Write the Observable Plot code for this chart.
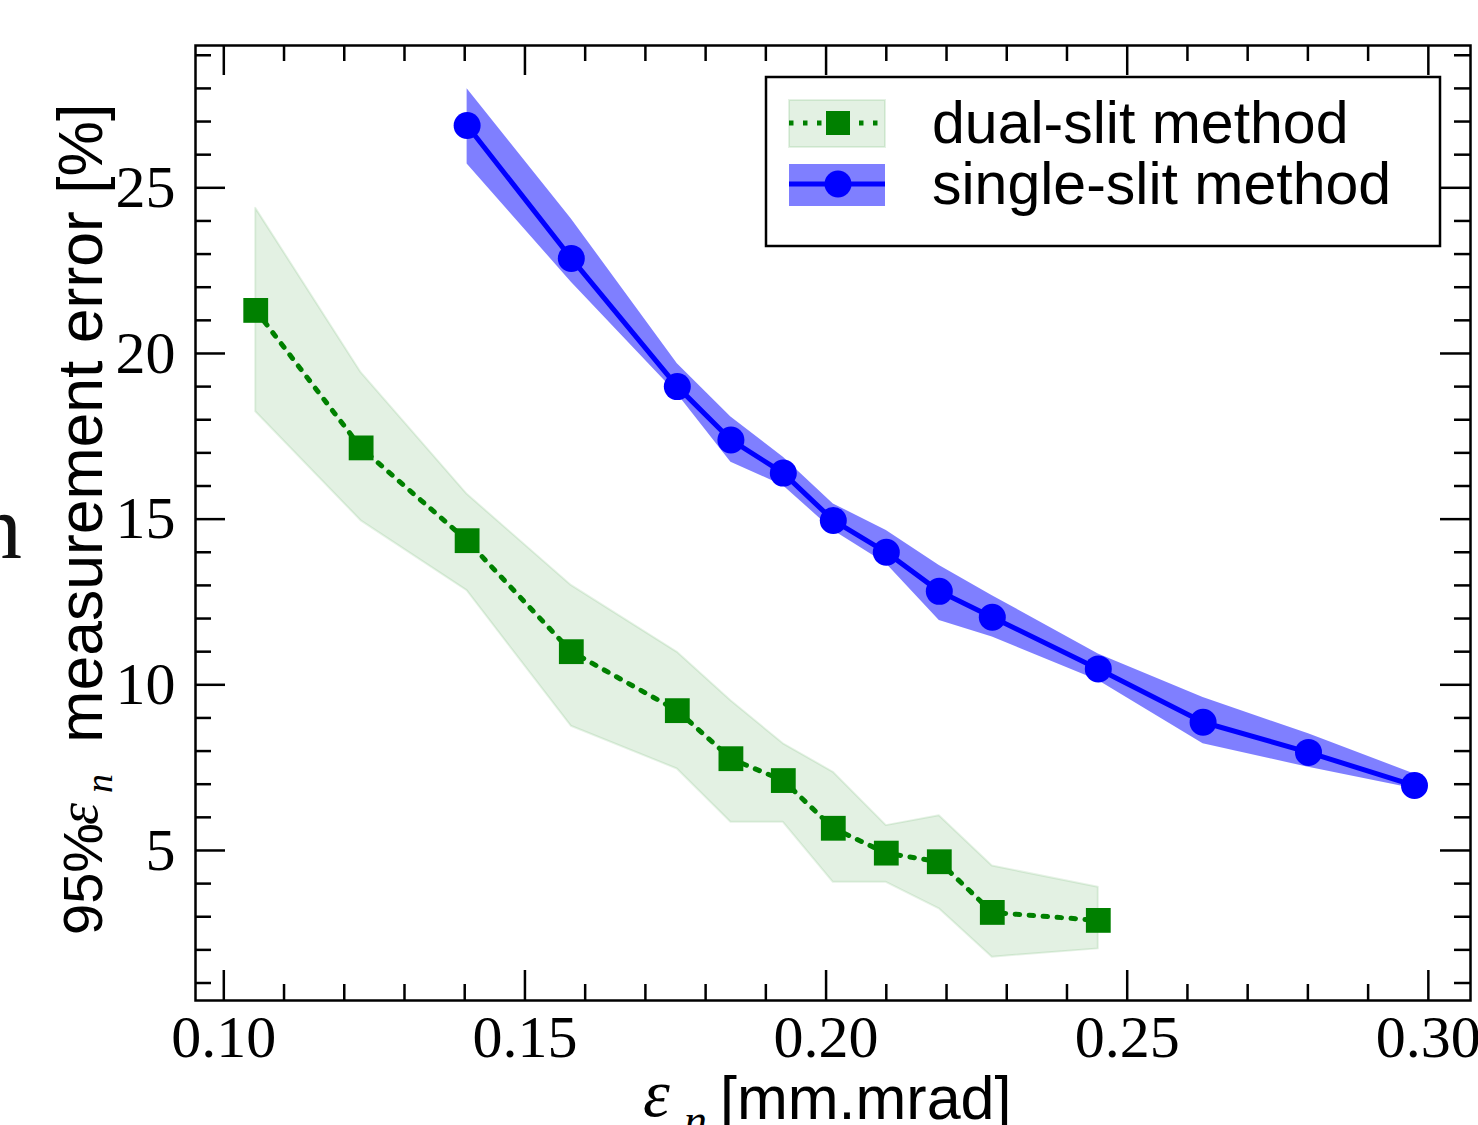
<!DOCTYPE html>
<html>
<head>
<meta charset="utf-8">
<script src="https://cdn.jsdelivr.net/npm/d3@7"></script>
<script src="https://cdn.jsdelivr.net/npm/@observablehq/plot@0.6"></script>
<style>
  html, body { margin: 0; padding: 0; background: white; }
  svg { display: block; }
</style>
</head>
<body>
<div id="chart"></div>
<script>
// ---- data ----
const dualX   = [0.1053, 0.1228, 0.1404, 0.1577, 0.1753, 0.1842, 0.1929, 0.2012, 0.2100, 0.2188, 0.2276, 0.2452];
const dualErr = [21.30, 17.15, 14.35, 11.00, 9.22, 7.77, 7.11, 5.67, 4.92, 4.66, 3.13, 2.89];
const dualLo  = [18.24, 14.95, 12.84, 8.75, 7.46, 5.85, 5.85, 4.04, 4.04, 3.24, 1.78, 2.03];
const dualHi  = [24.38, 19.42, 15.75, 13.00, 10.98, 9.52, 8.22, 7.36, 5.75, 6.05, 4.53, 3.89];

const singleX   = [0.1404, 0.1577, 0.1753, 0.1842, 0.1929, 0.2012, 0.2100, 0.2188, 0.2276, 0.2452, 0.2626, 0.2801, 0.2977];
const singleErr = [26.88, 22.87, 19.00, 17.39, 16.39, 14.96, 14.00, 12.82, 12.04, 10.48, 8.87, 7.96, 6.96];
const singleLo  = [25.72, 22.15, 18.78, 16.72, 16.01, 14.66, 13.65, 11.94, 11.44, 10.13, 8.22, 7.51, 6.86];
const singleHi  = [27.99, 24.06, 19.69, 18.08, 16.87, 15.46, 14.66, 13.60, 12.69, 10.93, 9.62, 8.52, 7.31];

const xMajor = [0.10, 0.15, 0.20, 0.25, 0.30];
const xMinor = [0.11,0.12,0.13,0.14,0.16,0.17,0.18,0.19,0.21,0.22,0.23,0.24,0.26,0.27,0.28,0.29];
const yMajor = [5, 10, 15, 20, 25];
const yMinor = [1,2,3,4,6,7,8,9,11,12,13,14,16,17,18,19,21,22,23,24,26,27,28,29];

const seriesNames = ["dual-slit method", "single-slit method"];
const xLabel = "[mm.mrad]";
const yLabelA = "95%";
const yLabelB = " measurement error [%]";

// ---- tables ----
const dual = dualX.map((x, i) => ({x, y: dualErr[i], lo: dualLo[i], hi: dualHi[i]}));
const single = singleX.map((x, i) => ({x, y: singleErr[i], lo: singleLo[i], hi: singleHi[i]}));

const W = 1478, H = 1125;
const mL = 195, mR = 8, mT = 45, mB = 125;
const pw = W - mL - mR, ph = H - mT - mB;
const MAJ = 30, MIN = 16;

const plot = Plot.plot({
  width: W, height: H,
  marginLeft: mL, marginRight: mR, marginTop: mT, marginBottom: mB,
  style: {background: "white", fontFamily: "'Liberation Serif', serif", color: "black", overflow: "visible"},
  x: {domain: [0.0953, 0.307]},
  y: {domain: [0.472, 29.295]},
  marks: [
    Plot.areaY(dual, {x: "x", y1: "lo", y2: "hi", fill: "green", fillOpacity: 0.11, stroke: "green", strokeOpacity: 0.1, strokeWidth: 2}),
    Plot.areaY(single, {x: "x", y1: "lo", y2: "hi", fill: "blue", fillOpacity: 0.5}),
    Plot.line(dual, {x: "x", y: "y", stroke: "green", strokeWidth: 5, strokeDasharray: "4.5 9.5"}),
    Plot.line(single, {x: "x", y: "y", stroke: "blue", strokeWidth: 5}),
    Plot.dot(dual, {x: "x", y: "y", symbol: "square", r: 14, fill: "green"}),
    Plot.dot(single, {x: "x", y: "y", r: 13.5, fill: "blue"}),
    // inward ticks on all four sides
    Plot.tickX(xMajor, {x: d => d, insetTop: ph - MAJ, stroke: "black", strokeWidth: 2.5}),
    Plot.tickX(xMajor, {x: d => d, insetBottom: ph - MAJ, stroke: "black", strokeWidth: 2.5}),
    Plot.tickX(xMinor, {x: d => d, insetTop: ph - MIN, stroke: "black", strokeWidth: 2.5}),
    Plot.tickX(xMinor, {x: d => d, insetBottom: ph - MIN, stroke: "black", strokeWidth: 2.5}),
    Plot.tickY(yMajor, {y: d => d, insetRight: pw - MAJ, stroke: "black", strokeWidth: 2.5}),
    Plot.tickY(yMajor, {y: d => d, insetLeft: pw - MAJ, stroke: "black", strokeWidth: 2.5}),
    Plot.tickY(yMinor, {y: d => d, insetRight: pw - MIN, stroke: "black", strokeWidth: 2.5}),
    Plot.tickY(yMinor, {y: d => d, insetLeft: pw - MIN, stroke: "black", strokeWidth: 2.5}),
    Plot.frame({stroke: "black", strokeWidth: 2.5}),
    Plot.axisX(xMajor, {tickSize: 0, tickPadding: 14, tickFormat: d => d.toFixed(2), fontSize: 60, label: null}),
    Plot.axisY(yMajor, {tickSize: 0, tickPadding: 20, fontSize: 60, label: null})
  ]
});

document.getElementById("chart").appendChild(plot);
const svg = d3.select(plot);
const sans = "'Liberation Sans', Arial, sans-serif";
const serif = "'Liberation Serif', serif";

function txt(parent, x, y, s, family, size, italic) {
  return parent.append("text").attr("x", x).attr("y", y)
    .attr("text-anchor", "start").attr("font-family", family)
    .attr("font-size", size).attr("font-style", italic ? "italic" : "normal")
    .attr("fill", "black").text(s);
}

// stray glyph at the left edge (cropped neighbouring figure)
txt(svg, -24, 558, "n", serif, 92, false).attr("fill", "#111");

// x label
txt(svg, 643, 1116, "ε", serif, 68, true);
txt(svg, 684, 1136, "n", serif, 46, true);
txt(svg, 720, 1119, xLabel, sans, 61, false);

// y label (rotated)
const gy = svg.append("g").attr("transform", "translate(102,0) rotate(-90)");
txt(gy, -935, 0, yLabelA, sans, 56, false);
txt(gy, -825, -5, "ε", serif, 56, true);
txt(gy, -793, 10, "n", serif, 38, true);
txt(gy, -760, 0, yLabelB, sans, 62.5, false);

// legend
const lg = svg.append("g");
lg.append("rect").attr("x", 766).attr("y", 77).attr("width", 674).attr("height", 169)
  .attr("fill", "white").attr("stroke", "black").attr("stroke-width", 2.5);
lg.append("rect").attr("x", 789).attr("y", 100).attr("width", 96).attr("height", 47)
  .attr("fill", "green").attr("fill-opacity", 0.11).attr("stroke", "green").attr("stroke-opacity", 0.1).attr("stroke-width", 2);
lg.append("line").attr("x1", 789).attr("x2", 885).attr("y1", 123).attr("y2", 123)
  .attr("stroke", "green").attr("stroke-width", 5).attr("stroke-dasharray", "4.5 9.5");
lg.append("rect").attr("x", 826).attr("y", 111).attr("width", 24).attr("height", 24).attr("fill", "green");
lg.append("rect").attr("x", 789).attr("y", 164).attr("width", 96).attr("height", 42)
  .attr("fill", "blue").attr("fill-opacity", 0.5);
lg.append("line").attr("x1", 789).attr("x2", 885).attr("y1", 184).attr("y2", 184)
  .attr("stroke", "blue").attr("stroke-width", 5);
lg.append("circle").attr("cx", 838).attr("cy", 184).attr("r", 13.5).attr("fill", "blue");
txt(lg, 932, 143, seriesNames[0], sans, 59, false);
txt(lg, 932, 204, seriesNames[1], sans, 59, false);
</script>
</body>
</html>
